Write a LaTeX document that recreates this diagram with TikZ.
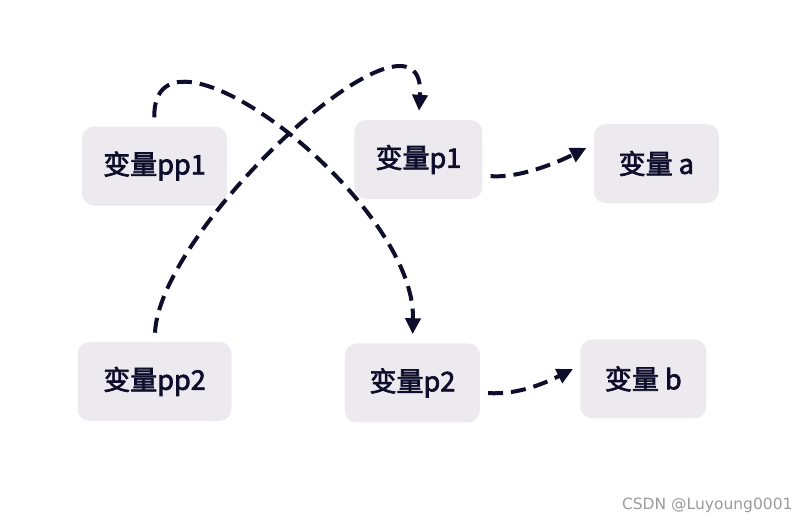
\documentclass[tikz,border=0pt]{standalone}
\usepackage{fontspec}
\setmainfont{Noto Sans CJK SC}[AutoFakeBold=2.5]
\newfontfamily\markfont{DejaVu Sans}
\usetikzlibrary{positioning,arrows.meta}
\definecolor{boxgray}{HTML}{ECEAEE}
\definecolor{ink}{HTML}{0E0E2C}
\definecolor{markgray}{HTML}{9C9C9C}

\begin{document}
\begin{tikzpicture}[
      x=1pt, y=-1pt,
      var/.style={
        fill=boxgray, text=ink, font=\fontsize{27}{32}\selectfont\bfseries,
        rounded corners=12pt, inner xsep=0pt, minimum height=79pt
      },
      flow/.style={
        draw=ink, line width=4pt, dash pattern=on 15pt off 8pt,
        -{Triangle[length=16pt,width=15pt]}, shorten <=9pt, shorten >=9pt
      }
      ]
  \useasboundingbox[fill=white] (0,0) rectangle (802,524);

	  \node[var, minimum width=145pt] (pp1) at (154.5,166) {变量pp1};
	  \node[var, minimum width=128pt, right=127pt of pp1, yshift=6.5pt] (p1) {变量p1};
	  \node[var, minimum width=125pt, right=111pt of p1, yshift=-4pt] (a) {变量 a};
	  \node[var, minimum width=154pt, below=136pt of pp1] (pp2) {变量pp2};
	  \node[var, minimum width=135pt, right=113pt of pp2, yshift=-1.5pt] (p2) {变量p2};
	  \node[var, minimum width=126pt, right=100pt of p2, yshift=4pt] (b) {变量 b};

	  \node[font=\markfont\fontsize{15.5}{18}\selectfont, text=markgray, anchor=east] (mark) at (796,505) {CSDN @Luyoung0001};

  % Connect the nodes

  \draw[flow] (pp1.north) .. controls +(-2.5,-126) and +(3.5,-144) .. (p2.north);
  \draw[flow] (pp2.north) .. controls +(6,-118) and +(9,-138) .. (p1.north);
  \draw[flow, shorten <=8pt, shorten >=8pt] (p1.-14) .. controls +(40,3) and +(-30,15) .. (a.163);
  \draw[flow, shorten <=8pt, shorten >=8pt] (p2.-8) .. controls +(40,3) and +(-30,15) .. (b.168);

\end{tikzpicture}
\end{document}
